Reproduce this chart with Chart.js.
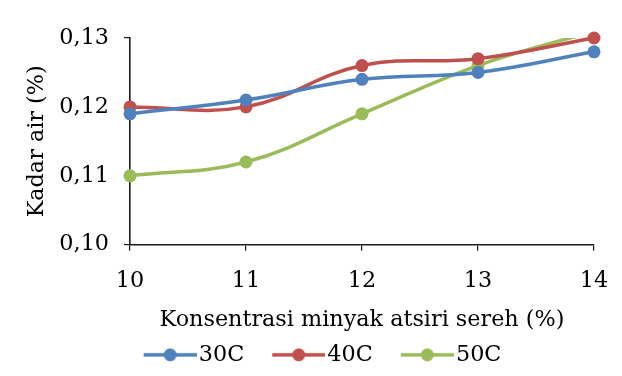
<!DOCTYPE html>
<html>
<head>
<meta charset="utf-8">
<script src="https://cdn.jsdelivr.net/npm/chart.js@4/dist/chart.umd.min.js"></script>
<style>
  html, body { margin: 0; padding: 0; background: #fff; }
  #wrap { width: 622px; height: 376px; }
</style>
</head>
<body>
<div id="wrap"><canvas id="c" width="622" height="376"></canvas></div>
<script>
// Konsentrasi minyak atsiri sereh (%) on the x axis
const konsentrasi = ['10', '11', '12', '13', '14'];
// Kadar air (%) for each drying temperature
const kadar30C = [0.119, 0.121, 0.124, 0.125, 0.128];
const kadar40C = [0.120, 0.120, 0.126, 0.127, 0.130];
const kadar50C = [0.110, 0.112, 0.119, 0.126, 0.131];
const seriesNames = ['30C', '40C', '50C'];
const seriesColors = ['#4F81BD', '#C0504D', '#9BBB59'];
const yTicks = [0.10, 0.11, 0.12, 0.13];

const FONT = 'DejaVu Serif';
const FS = 22.3;
const TEXT = '#000000';
const AXIS = '#1a1a1a';
const PAD_LEFT = 36;

// legend swatch: short line with a marker in the middle
const SW = 59;          // reserved box width in legend
const SWI = 77;         // drawn image width
function makeSwatch(color) {
  const cv = document.createElement('canvas');
  cv.width = SWI; cv.height = 16;
  const g = cv.getContext('2d');
  const x0 = SWI - 53, x1 = SWI;
  g.strokeStyle = color; g.lineWidth = 3.5;
  g.beginPath(); g.moveTo(x0, 8); g.lineTo(x1, 8); g.stroke();
  g.fillStyle = color;
  g.beginPath(); g.arc((x0 + x1) / 2, 8, 6.5, 0, Math.PI * 2); g.fill();
  return cv;
}
const swatches = seriesColors.map(makeSwatch);

function ds(label, data, color, clipTop) {
  return {
    label, data,
    borderColor: color, backgroundColor: color,
    borderWidth: 3.5,
    pointRadius: 6.5, pointHoverRadius: 6.5,
    pointBackgroundColor: color, pointBorderColor: color, pointBorderWidth: 0,
    tension: 0.4,
    clip: {left: 12, right: 12, bottom: 12, top: clipTop}
  };
}

new Chart(document.getElementById('c'), {
  type: 'line',
  data: {
    labels: konsentrasi,
    datasets: [
      ds(seriesNames[0], kadar30C, seriesColors[0], 12),
      ds(seriesNames[1], kadar40C, seriesColors[1], 12),
      ds(seriesNames[2], kadar50C, seriesColors[2], 0)
    ]
  },
  options: {
    responsive: false,
    animation: false,
    events: [],
    layout: { padding: { top: 38, right: 28, left: PAD_LEFT, bottom: 0 } },
    plugins: {
      tooltip: { enabled: false },
      legend: {
        position: 'bottom',
        labels: {
          usePointStyle: true,
          pointStyleWidth: SW,
          padding: 13,
          color: TEXT,
          font: { family: FONT, size: FS },
          generateLabels(chart) {
            const items = Chart.defaults.plugins.legend.labels.generateLabels(chart);
            items.forEach((it, i) => { it.pointStyle = swatches[i]; });
            return items;
          }
        }
      }
    },
    scales: {
      x: {
        type: 'category',
        offset: false,
        grid: { display: true, drawOnChartArea: false, drawTicks: true, tickLength: 6, color: AXIS, lineWidth: 1.2 },
        border: { display: true, color: AXIS, width: 1.6 },
        ticks: { color: TEXT, font: { family: FONT, size: FS }, padding: 17, maxRotation: 0 },
        title: { display: true, text: 'Konsentrasi minyak atsiri sereh (%)', color: TEXT, font: { family: FONT, size: FS }, padding: { top: 0, bottom: -3 } },
        afterFit(scale) {
          scale.height = 86;
          scale.paddingLeft = 0;
          scale.paddingRight = 0;
        }
      },
      y: {
        min: yTicks[0],
        max: yTicks[yTicks.length - 1],
        afterBuildTicks(scale) { scale.ticks = yTicks.map(v => ({ value: v })); },
        grid: { display: true, drawOnChartArea: false, drawTicks: true, tickLength: 6, color: AXIS, lineWidth: 1.2 },
        border: { display: true, color: AXIS, width: 1.6 },
        ticks: {
          color: TEXT, font: { family: FONT, size: FS }, padding: 15,
          callback: v => Number(v).toFixed(2).replace('.', ',')
        },
        title: { display: true, text: 'Kadar air (%)', color: TEXT, font: { family: FONT, size: FS }, padding: { top: 37 - PAD_LEFT - FS * 0.6, bottom: 0 } },
        afterFit(scale) {
          scale.width = 130 - PAD_LEFT;
          scale.paddingTop = 0;
          scale.paddingBottom = 0;
        }
      }
    }
  }
});
</script>
</body>
</html>
